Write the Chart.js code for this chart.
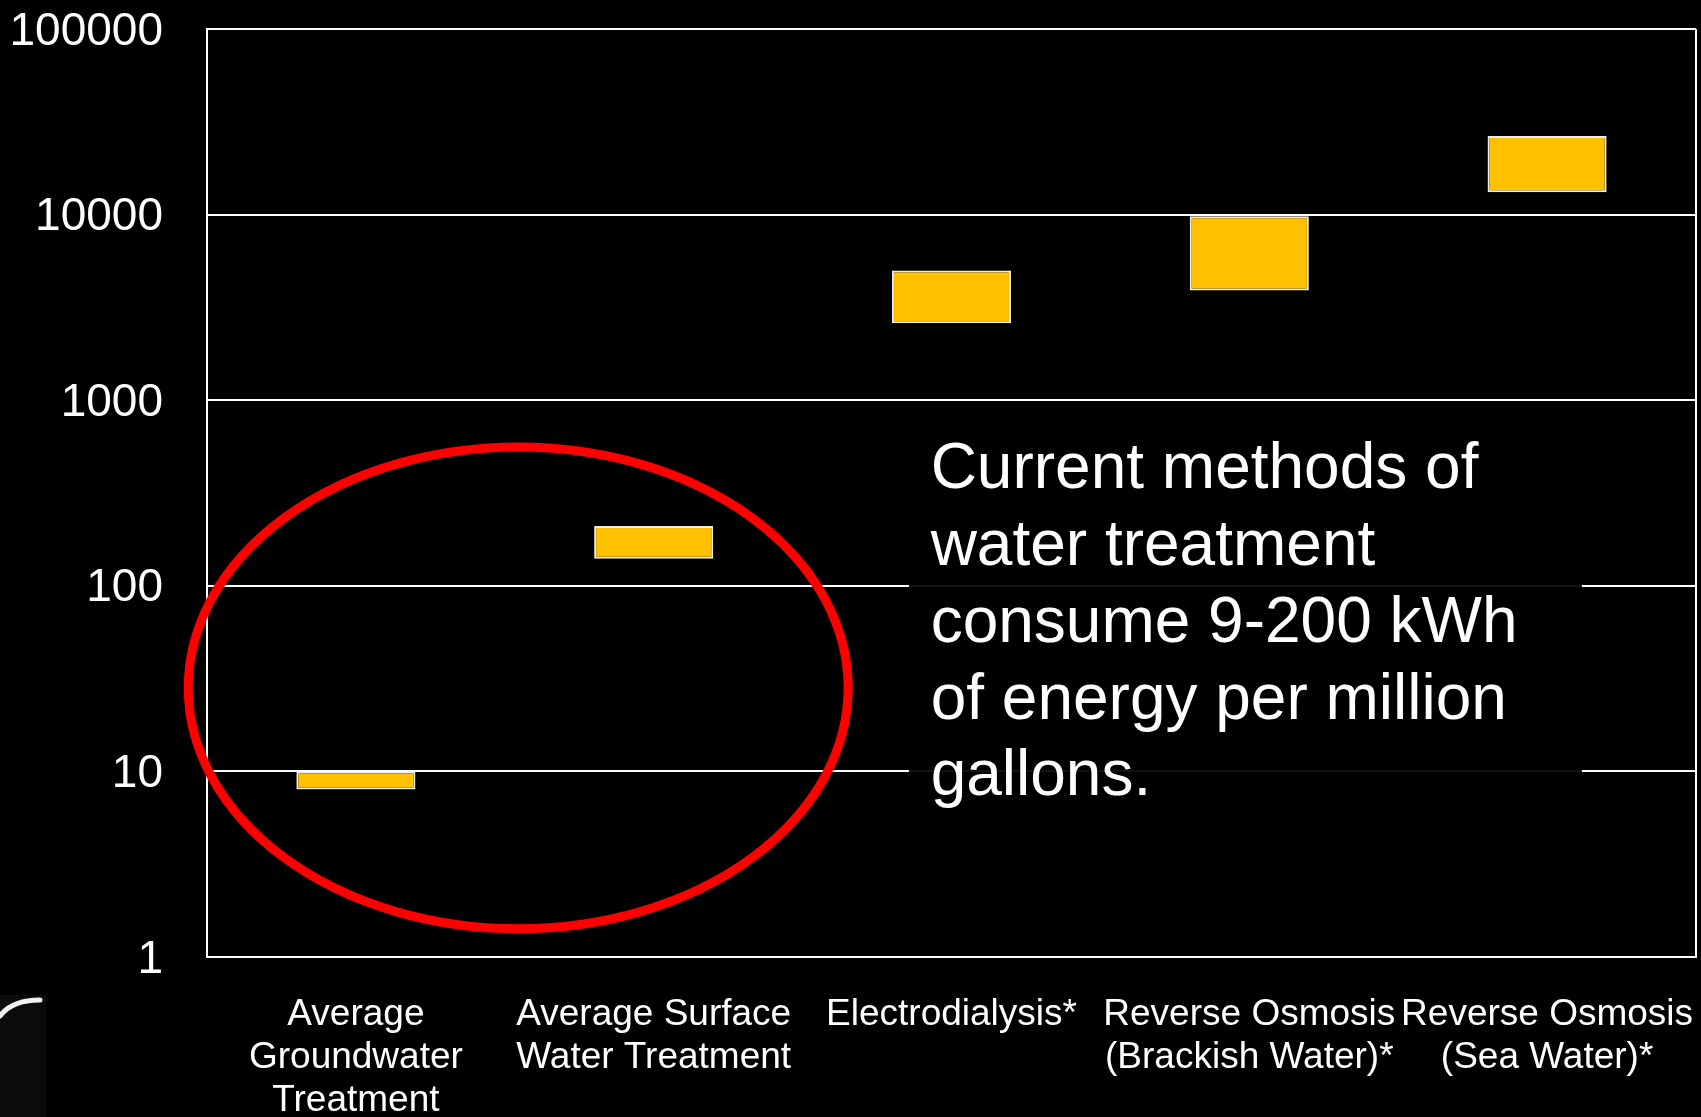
<!DOCTYPE html>
<html>
<head>
<meta charset="utf-8">
<script src="https://cdn.jsdelivr.net/npm/chart.js@4.4.1/dist/chart.umd.min.js"></script>
<style>
html, body { margin: 0; padding: 0; background: #000; }
#wrap { width: 1701px; height: 1117px; position: relative; }
</style>
</head>
<body>
<div id="wrap"><canvas id="energyChart"></canvas></div>
<script>
// energy use ranges, kWh per million gallons (log scale)
const categories = [
    ['Average', 'Groundwater', 'Treatment'],
    ['Average Surface', 'Water Treatment'],
    'Electrodialysis*',
    ['Reverse Osmosis', '(Brackish Water)*'],
    ['Reverse Osmosis', '(Sea Water)*']
];
const lowValues = [8, 140, 2600, 3900, 13200];
const highValues = [10, 210, 5000, 9800, 26500];
const yTicks = [1, 10, 100, 1000, 10000, 100000];
const noteLines = [
    'Current methods of',
    'water treatment',
    'consume 9-200 kWh',
    'of energy per million',
    'gallons.'
];

const FONT = "'Liberation Sans', Arial, sans-serif";

// red ellipse, text box and frame drawn on top of the bars
const overlayPlugin = {
    id: 'overlay',
    afterDatasetsDraw(chart) {
        const ctx = chart.ctx;
        const x = chart.scales.x;
        const y = chart.scales.y;
        const area = chart.chartArea;
        ctx.save();

        // right frame line
        ctx.strokeStyle = '#fff';
        ctx.lineWidth = 2;
        ctx.beginPath();
        ctx.moveTo(area.right, area.top);
        ctx.lineTo(area.right, area.bottom);
        ctx.stroke();

        // text box (hides the grid lines behind it)
        const bx1 = x.getPixelForValue(1.857);
        const bx2 = x.getPixelForValue(4.117);
        const by1 = y.getPixelForValue(780);
        const by2 = y.getPixelForValue(5.8);
        ctx.fillStyle = 'rgba(0,0,0,0.93)';
        ctx.fillRect(bx1, by1, bx2 - bx1, by2 - by1);

        ctx.fillStyle = '#fff';
        ctx.font = '64px ' + FONT;
        ctx.textBaseline = 'alphabetic';
        ctx.textAlign = 'left';
        const tx = x.getPixelForValue(1.93);
        const ty = y.getPixelForValue(336);
        noteLines.forEach((line, i) => {
            ctx.fillText(line, tx, ty + i * 76.8);
        });

        // red ellipse
        const cx = x.getPixelForValue(0.545);
        const rx = x.getPixelForValue(0.545 + 1.108) - cx;
        const top = y.getPixelForValue(560);
        const bottom = y.getPixelForValue(1.42);
        ctx.strokeStyle = '#ff0000';
        ctx.lineWidth = 9;
        ctx.beginPath();
        ctx.ellipse(cx, (top + bottom) / 2, rx, (bottom - top) / 2, 0, 0, Math.PI * 2);
        ctx.stroke();

        ctx.restore();
    },
    afterDraw(chart) {
        // little logo fragment in the bottom-left corner
        const ctx = chart.ctx;
        ctx.save();
        ctx.fillStyle = '#0b0b0b';
        ctx.fillRect(0, 995, 46, 122);
        ctx.strokeStyle = '#f0f0f0';
        ctx.lineWidth = 5;
        ctx.lineCap = 'round';
        ctx.beginPath();
        ctx.moveTo(40, 1000);
        ctx.quadraticCurveTo(12, 1000, 0, 1016);
        ctx.stroke();
        ctx.restore();
    }
};

const ctx = document.getElementById('energyChart').getContext('2d');
new Chart(ctx, {
    type: 'bar',
    data: {
        labels: categories,
        datasets: [{
            label: 'Energy (kWh per million gallons)',
            data: lowValues.map((v, i) => [v, highValues[i]]),
            backgroundColor: '#FFC000',
            borderColor: '#ececec',
            borderWidth: 2,
            borderSkipped: false,
            barPercentage: 0.4,
            categoryPercentage: 1.0
        }]
    },
    options: {
        responsive: true,
        maintainAspectRatio: false,
        animation: false,
        devicePixelRatio: 1,
        layout: {
            padding: { top: 29, right: 5, left: 0, bottom: 0 }
        },
        plugins: {
            legend: { display: false },
            tooltip: { enabled: false }
        },
        scales: {
            x: {
                grid: { display: false },
                border: { display: true, color: '#fff', width: 2 },
                ticks: {
                    color: '#fff',
                    font: { family: FONT, size: 37, lineHeight: 1.16 },
                    maxRotation: 0,
                    minRotation: 0,
                    autoSkip: false,
                    padding: 28
                },
                afterFit(scale) {
                    scale.height = 160;
                    scale.paddingLeft = 0;
                    scale.paddingRight = 0;
                }
            },
            y: {
                type: 'logarithmic',
                min: 1,
                max: 100000,
                afterBuildTicks(scale) {
                    scale.ticks = yTicks.map(v => ({ value: v }));
                },
                grid: { color: '#fff', lineWidth: 2, drawTicks: false },
                border: { display: true, color: '#fff', width: 2 },
                ticks: {
                    color: '#fff',
                    font: { family: FONT, size: 46 },
                    padding: 44,
                    labelOffset: 3,
                    autoSkip: false,
                    callback: v => String(v)
                },
                afterFit(scale) {
                    scale.width = 207;
                    scale.paddingTop = 0;
                    scale.paddingBottom = 0;
                }
            }
        }
    },
    plugins: [overlayPlugin]
});
</script>
</body>
</html>
